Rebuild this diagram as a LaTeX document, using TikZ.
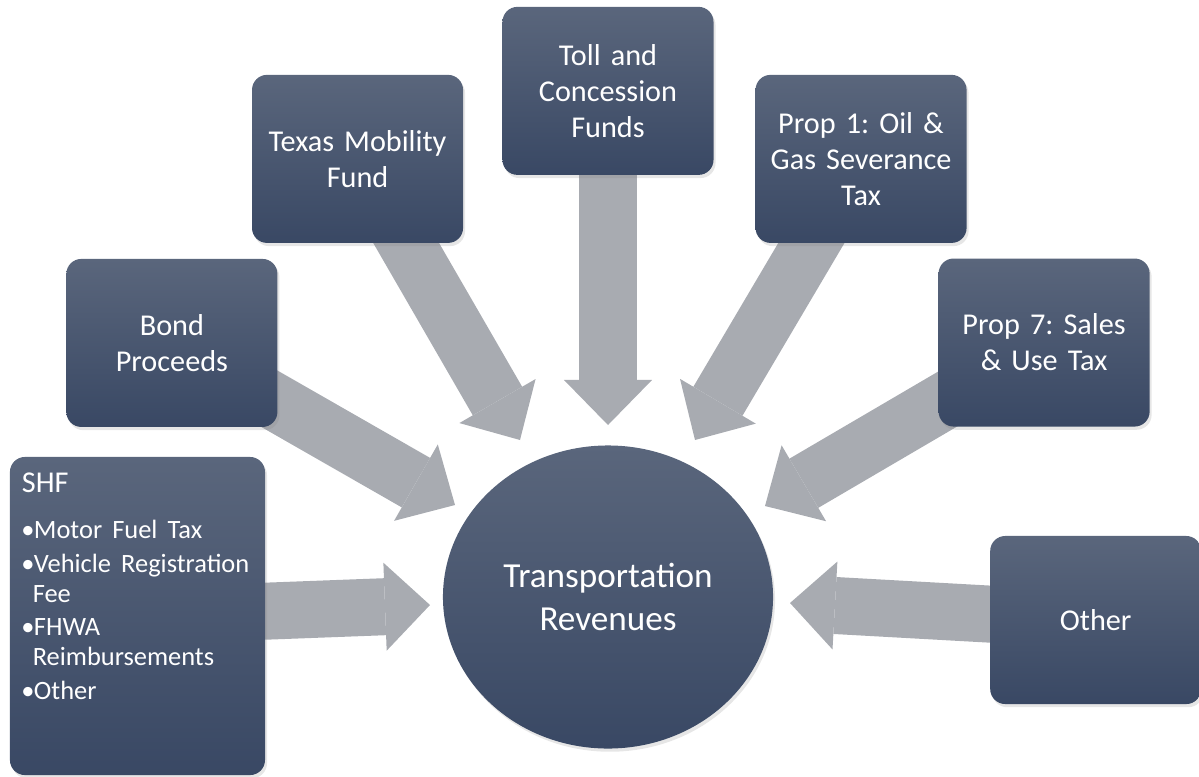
\documentclass[tikz,border=0pt]{standalone}
\usepackage{fontspec}
\setmainfont{Carlito}
\usepackage{tikz}
\usetikzlibrary{shapes.geometric, arrows.meta, shadows, backgrounds}
\definecolor{slatetop}{RGB}{90,102,124}
\definecolor{slatebot}{RGB}{57,72,100}
\definecolor{feedgray}{RGB}{168,171,177}
\newcommand{\boxfont}{\fontsize{21.5}{25.5}\selectfont}
\newcommand{\listfont}{\fontsize{18.8}{21.3}\selectfont}
\newcommand{\revfont}{\fontsize{25}{30}\selectfont}
\newcommand{\shfitem}[1]{\hangindent=0.27cm\makebox[0.3cm][c]{\textbullet}#1\par}
\frenchspacing
\tikzstyle{fund} = [rectangle, rounded corners=0.375cm, minimum width=5.275cm, minimum height=4.2cm, text width=5.1cm, align=center, inner sep=0pt, top color=slatetop, bottom color=slatebot, text=white, font=\boxfont, drop shadow={opacity=0.2, shadow xshift=0.05cm, shadow yshift=-0.08cm}]
\tikzstyle{revenue} = [ellipse, minimum width=8.25cm, minimum height=7.575cm, inner sep=0pt, align=center, top color=slatetop, bottom color=slatebot, text=white, font=\revfont, drop shadow={opacity=0.2, shadow xshift=0.05cm, shadow yshift=-0.08cm}]
\tikzstyle{feed} = [draw=feedgray, line width=1.425cm, -{Triangle[width=2.2cm, length=1.125cm, line width=0pt]}]

\begin{document}
\begin{tikzpicture}[x=0.025cm, y=-0.025cm, node distance=10.9cm]
\useasboundingbox (0,0) rectangle (1199,777);
\node (rev) [revenue] at (608,597) {Transportation\\Revenues};
\node (toll) [fund, above of=rev, node distance=12.65cm] {Toll and\\Concession\\Funds};
\node (tmf) [fund, above of=rev, node distance=10.95cm, xshift=-6.26cm] {Texas Mobility\\Fund};
\node (prop1) [fund, above of=rev, node distance=10.95cm, xshift=6.325cm] {Prop 1: Oil \&\\Gas Severance\\Tax};
\node (bond) [fund, left of=rev, yshift=6.35cm] {Bond\\Proceeds};
\node (prop7) [fund, right of=rev, yshift=6.36cm] {Prop 7: Sales\\\& Use Tax};
\node (other) [fund, right of=rev, node distance=12.19cm, yshift=-0.575cm] {Other};
\node (shf) [fund, left of=rev, node distance=11.76cm, yshift=-0.475cm, text width=6.375cm, align=left] {%
  \parbox[c][7.95cm][t]{6.375cm}{\raggedright\leftskip=0.3cm
    \rule{0pt}{0.9cm}SHF\par
    \vspace{0.3cm}
    \listfont\setlength{\parskip}{0.09cm}
    \shfitem{Motor Fuel Tax}
    \shfitem{Vehicle Registration\newline Fee}
    \shfitem{FHWA\newline Reimbursements}
    \shfitem{Other}}};

\coordinate (shfTip) at (430,605);
\coordinate (bondTip) at (455,505);
\coordinate (tmfTip) at (520,440);
\coordinate (tollTip) at (608,425);
\coordinate (prop1Tip) at (695,440);
\coordinate (prop7Tip) at (765,506);
\coordinate (otherTip) at (790,603);

\begin{pgfonlayer}{background}
\draw[feed] (shf.center) -- (shfTip);
\draw[feed] (bond.center) -- (bondTip);
\draw[feed] (tmf.center) -- (tmfTip);
\draw[feed] (toll.center) -- (tollTip);
\draw[feed] (prop1.center) -- (prop1Tip);
\draw[feed] (prop7.center) -- (prop7Tip);
\draw[feed] (other.center) -- (otherTip);
\end{pgfonlayer}
\end{tikzpicture}
\end{document}
